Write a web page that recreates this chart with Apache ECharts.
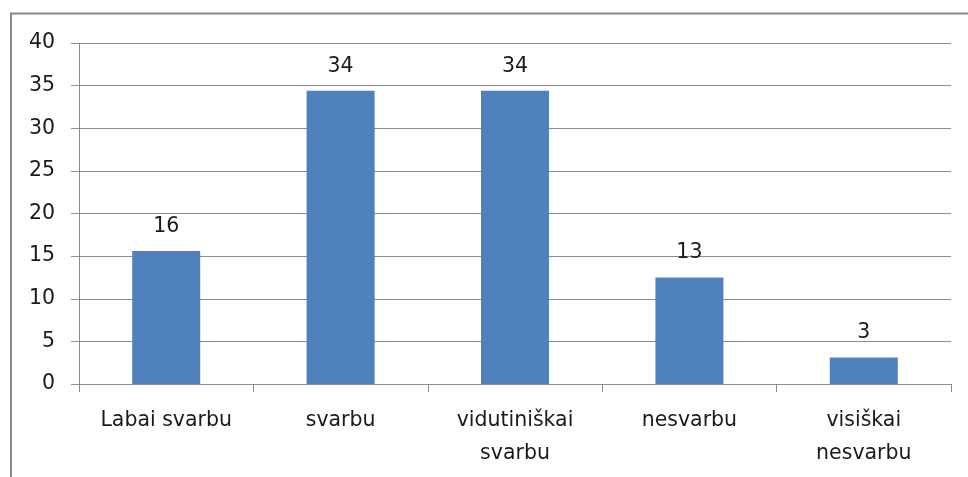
<!DOCTYPE html>
<html><head><meta charset="utf-8">
<script src="https://cdn.jsdelivr.net/npm/echarts@6/dist/echarts.min.js"></script>
<style>html,body{margin:0;padding:0;background:#fff}#c{width:968px;height:477px}</style>
</head><body><div id="c"></div>
<script>
const categories = ['Labai svarbu', 'svarbu', 'vidutiniškai\nsvarbu', 'nesvarbu', 'visiškai\nnesvarbu'];
const values = [15.6, 34.4, 34.4, 12.5, 3.1];
const yTicks = { min: 0, max: 40, interval: 5 };

const FONT = 'DejaVu Sans';
const chart = echarts.init(document.getElementById('c'), null, { renderer: 'canvas' });
chart.setOption({
  animation: false,
  backgroundColor: '#fff',
  textStyle: { fontFamily: FONT },
  graphic: [{
    type: 'rect', silent: true, z: -1,
    shape: { x: 11, y: 13.5, width: 3000, height: 3000 },
    style: { fill: 'none', stroke: '#8a8a8a', lineWidth: 2 }
  }],
  grid: { left: 79, right: 17, top: 43, bottom: 93, containLabel: false },
  xAxis: {
    type: 'category',
    data: categories,
    axisLine: { lineStyle: { color: '#8c8c8c', width: 1 } },
    axisTick: { show: true, length: 8, alignWithLabel: false, lineStyle: { color: '#8c8c8c' } },
    axisLabel: { color: '#1a1a1a', fontSize: 20.5, fontFamily: FONT, margin: 20, lineHeight: 33, interval: 0 }
  },
  yAxis: {
    type: 'value',
    min: yTicks.min, max: yTicks.max, interval: yTicks.interval,
    axisLine: { show: true, lineStyle: { color: '#8c8c8c', width: 1 } },
    axisTick: { show: true, length: 8, lineStyle: { color: '#8c8c8c' } },
    splitLine: { show: true, lineStyle: { color: '#8c8c8c', width: 1 } },
    axisLabel: { color: '#1a1a1a', fontSize: 20.5, fontFamily: FONT, margin: 24 }
  },
  series: [{
    type: 'bar',
    data: values,
    barWidth: '39%',
    itemStyle: { color: '#4f81bd' },
    label: {
      show: true, position: 'top', distance: 14,
      color: '#1a1a1a', fontSize: 20.5, fontFamily: FONT,
      formatter: p => String(Math.round(p.value))
    }
  }]
});
</script></body></html>
